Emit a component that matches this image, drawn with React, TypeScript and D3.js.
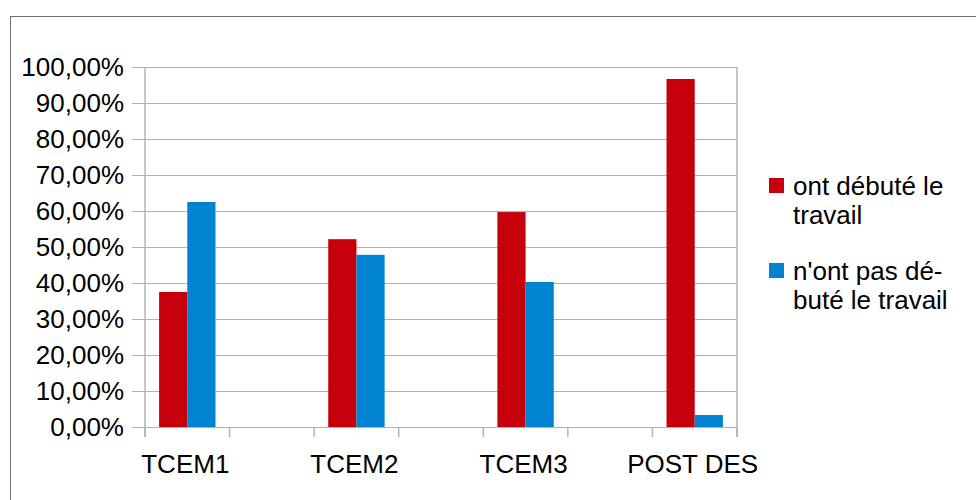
import * as d3 from "d3";
import { useRef, useEffect } from "react";

// categories on the x axis (a blank slot sits between two categories)
const categories = ["TCEM1", "TCEM2", "TCEM3", "POST DES"];
const seriesNames = ["ont débuté le travail", "n'ont pas débuté le travail"];
const started = [0.375, 0.5217, 0.597, 0.9667];
const notStarted = [0.625, 0.4783, 0.403, 0.0333];
const yTicks = [0, 0.1, 0.2, 0.3, 0.4, 0.5, 0.6, 0.7, 0.8, 0.9, 1];
const legendLines = [
  ["ont débuté le", "travail"],
  ["n'ont pas dé-", "buté le travail"],
];

const colors = ["#c5000b", "#0084d1"];
const grid = "#b3b3b3";
const font = "'Liberation Sans', Arial, sans-serif";
const fontSize = 26;

export default function App() {
  const ref = useRef(null);

  useEffect(() => {
    const svg = d3.select(ref.current);
    svg.selectAll("*").remove();

    const left = 145;
    const right = 737;
    const top = 67;
    const bottom = 427;

    // slots: category, blank, category, blank ...
    const slots = [];
    categories.forEach((c, i) => {
      slots.push(c);
      if (i < categories.length - 1) slots.push("_gap" + i);
    });

    const x = d3.scaleBand().domain(slots).range([left, right]).padding(0);
    const sub = d3
      .scaleBand()
      .domain(seriesNames)
      .range([0, x.bandwidth()])
      .paddingInner(0)
      .paddingOuter(0.5);
    const y = d3.scaleLinear().domain([0, 1]).range([bottom, top]);

    // outer frame
    svg
      .append("rect")
      .attr("x", 10.5)
      .attr("y", 16.5)
      .attr("width", 1000)
      .attr("height", 600)
      .attr("fill", "white")
      .attr("stroke", "#6e6e6e")
      .attr("stroke-width", 1);

    // horizontal grid + y ticks
    const fmt = (v) => (v * 100).toFixed(2).replace(".", ",") + "%";
    const gy = svg.append("g");
    yTicks.forEach((t) => {
      gy.append("line")
        .attr("x1", left - 13)
        .attr("x2", right)
        .attr("y1", Math.round(y(t)) + 0.5)
        .attr("y2", Math.round(y(t)) + 0.5)
        .attr("stroke", grid)
        .attr("stroke-width", 1.2);
      gy.append("text")
        .attr("x", left - 21)
        .attr("y", y(t))
        .attr("dy", "0.35em")
        .attr("text-anchor", "end")
        .attr("font-family", font)
        .attr("font-size", fontSize)
        .attr("fill", "#000")
        .text(fmt(t));
    });

    // y axis line and right edge
    [left, right].forEach((xx) => {
      svg
        .append("line")
        .attr("x1", xx)
        .attr("x2", xx)
        .attr("y1", top)
        .attr("y2", bottom + 10)
        .attr("stroke", grid)
        .attr("stroke-width", 1.5);
    });

    // x ticks at slot boundaries
    const bounds = slots.map((s) => x(s)).concat([right]);
    bounds.forEach((b) => {
      svg
        .append("line")
        .attr("x1", b)
        .attr("x2", b)
        .attr("y1", bottom)
        .attr("y2", bottom + 10)
        .attr("stroke", grid)
        .attr("stroke-width", 1.5);
    });

    // bars
    const series = [started, notStarted];
    series.forEach((vals, si) => {
      svg
        .append("g")
        .selectAll("rect")
        .data(categories)
        .enter()
        .append("rect")
        .attr("x", (c) => x(c) + sub(seriesNames[si]))
        .attr("width", sub.bandwidth())
        .attr("y", (c, i) => y(vals[i]))
        .attr("height", (c, i) => bottom - y(vals[i]))
        .attr("fill", colors[si]);
    });

    // x labels
    svg
      .append("g")
      .selectAll("text")
      .data(categories)
      .enter()
      .append("text")
      .attr("x", (c) => x(c) + x.bandwidth() / 2 - 2)
      .attr("y", 473)
      .attr("text-anchor", "middle")
      .attr("font-family", font)
      .attr("font-size", fontSize)
      .text((c) => c);

    // legend
    const legendTop = [178, 263];
    legendLines.forEach((lines, i) => {
      svg
        .append("rect")
        .attr("x", 769)
        .attr("y", legendTop[i])
        .attr("width", 15)
        .attr("height", 15)
        .attr("fill", colors[i]);
      const t = svg
        .append("text")
        .attr("font-family", font)
        .attr("font-size", fontSize)
        .attr("fill", "#000");
      lines.forEach((l, j) => {
        t.append("tspan")
          .attr("x", 793)
          .attr("y", legendTop[i] + 17 + j * 29)
          .text(l);
      });
    });
  }, []);

  return (
    <svg
      ref={ref}
      width={976}
      height={500}
      style={{ position: "fixed", left: 0, top: 0, background: "white" }}
    ></svg>
  );
}
